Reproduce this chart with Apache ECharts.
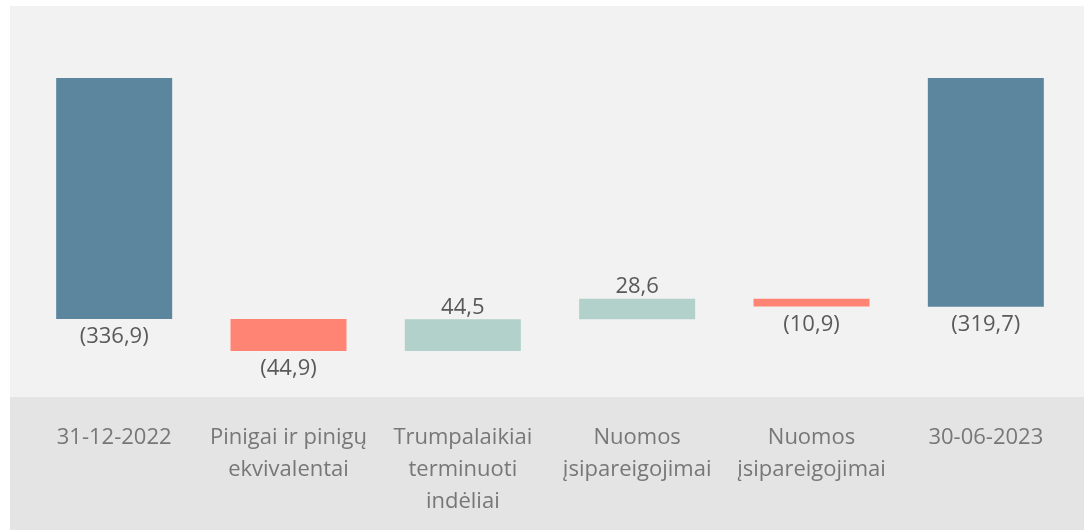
<!DOCTYPE html>
<html>
<head>
<meta charset="utf-8">
<script src="https://cdn.jsdelivr.net/npm/echarts@6/dist/echarts.min.js"></script>
<style>
html,body{margin:0;padding:0;background:#fff;}
#chart{width:1084px;height:530px;}
</style>
</head>
<body>
<div id="chart"></div>
<script>
// kategorijos ir pokyčiai
var categories = ['31-12-2022', 'Pinigai ir pinigų\nekvivalentai', 'Trumpalaikiai\nterminuoti\nindėliai', 'Nuomos\nįsipareigojimai', 'Nuomos\nįsipareigojimai', '30-06-2023'];
var changes = [-336.9, -44.9, 44.5, 28.6, -10.9, -319.7];
var isTotal = [true, false, false, false, false, true];

var colTotal = '#5b869e';
var colDown = '#ff8473';
var colUp = '#b1d1ca';

// skaičiuojam pradžią/pabaigą kiekvienam stulpeliui
var baseData = [];
var barData = [];
var run = 0;
for (var i = 0; i < changes.length; i++) {
    var s, e;
    if (isTotal[i]) {
        s = 0; e = changes[i]; run = changes[i];
    } else {
        s = run; e = run + changes[i]; run = e;
    }
    var hi = Math.max(s, e), lo = Math.min(s, e);
    baseData.push(+hi.toFixed(1));
    var col = isTotal[i] ? colTotal : (changes[i] < 0 ? colDown : colUp);
    var down = changes[i] < 0;
    barData.push({
        value: +(lo - hi).toFixed(1),
        itemStyle: {color: col},
        label: {position: down ? 'bottom' : 'top', distance: down ? 7 : 1}
    });
}

function fmt(v) {
    var t = Math.abs(v).toFixed(1).replace('.', ',');
    return v < 0 ? '(' + t + ')' : t;
}

var chart = echarts.init(document.getElementById('chart'));
var option = {
    animation: false,
    textStyle: {fontFamily: 'Open Sans'},
    graphic: [
        {type: 'rect', z: -10, shape: {x: 10, y: 6, width: 1074, height: 391}, style: {fill: '#f2f2f2'}},
        {type: 'rect', z: -10, shape: {x: 10, y: 397, width: 1074, height: 133}, style: {fill: '#e4e4e4'}}
    ],
    grid: {left: 27, right: 11, top: 78, bottom: 133},
    xAxis: {
        type: 'category',
        data: categories,
        axisLine: {show: false},
        axisTick: {show: false},
        axisLabel: {
            interval: 0,
            margin: 25,
            fontSize: 22,
            lineHeight: 32,
            color: '#777',
            fontFamily: 'Open Sans'
        }
    },
    yAxis: {
        type: 'value',
        min: -446,
        max: 0,
        show: false,
        splitLine: {show: false}
    },
    series: [{
        type: 'bar',
        stack: 'wf',
        silent: true,
        itemStyle: {color: 'transparent'},
        data: baseData,
        barWidth: 116
    }, {
        type: 'bar',
        stack: 'wf',
        barWidth: 116,
        data: barData,
        label: {
            show: true,
            fontSize: 22,
            color: '#595959',
            fontFamily: 'Open Sans',
            formatter: function (p) {
                return fmt(changes[p.dataIndex]);
            }
        }
    }]
};
chart.setOption(option);
</script>
</body>
</html>
